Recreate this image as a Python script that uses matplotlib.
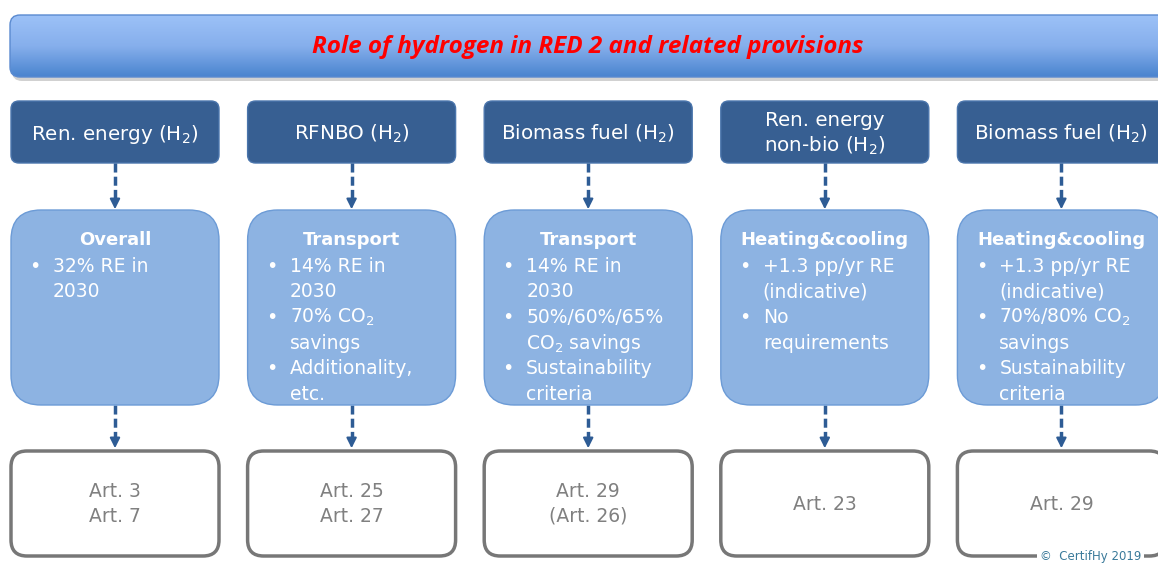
import numpy as np
import matplotlib.pyplot as plt
import matplotlib.patches as patches
from matplotlib.colors import LinearSegmentedColormap

plt.rcParams['mathtext.default'] = 'regular'

# --- content ---
title = "Role of hydrogen in RED 2 and related provisions"
top_labels = ["Ren. energy (H$_2$)", "RFNBO (H$_2$)", "Biomass fuel (H$_2$)",
              "Ren. energy\nnon-bio (H$_2$)", "Biomass fuel (H$_2$)"]
sections = ["Overall", "Transport", "Transport", "Heating&cooling", "Heating&cooling"]
bullets = [
    [["32% RE in", "2030"]],
    [["14% RE in", "2030"], ["70% CO$_2$", "savings"], ["Additionality,", "etc."]],
    [["14% RE in", "2030"], ["50%/60%/65%", "CO$_2$ savings"], ["Sustainability", "criteria"]],
    [["+1.3 pp/yr RE", "(indicative)"], ["No", "requirements"]],
    [["+1.3 pp/yr RE", "(indicative)"], ["70%/80% CO$_2$", "savings"], ["Sustainability", "criteria"]],
]
articles = ["Art. 3\nArt. 7", "Art. 25\nArt. 27", "Art. 29\n(Art. 26)", "Art. 23", "Art. 29"]

W, H = 1158, 563
fig = plt.figure(figsize=(W / 100, H / 100), dpi=100)
ax = fig.add_axes([0, 0, 1, 1])
ax.set_xlim(0, W)
ax.set_ylim(H, 0)
ax.axis('off')

font = 'DejaVu Sans'
dark = '#375F92'
mid = '#8DB3E2'
arrow_col = '#2E5C95'

# title bar with gradient + shadow
shadow = patches.FancyBboxPatch((12, 19), 1160, 62, boxstyle="round,pad=0,rounding_size=10",
                                facecolor='#000000', alpha=0.18, edgecolor='none')
ax.add_patch(shadow)
bar = patches.FancyBboxPatch((10, 15), 1160, 62, boxstyle="round,pad=0,rounding_size=10",
                             facecolor='none', edgecolor='#5A8AD0', lw=1)
ax.add_patch(bar)
grad = np.linspace(0, 1, 100).reshape(-1, 1)
cmap = LinearSegmentedColormap.from_list('g', ['#9CC1F7', '#86AFEC', '#4A84CF'])
im = ax.imshow(grad, extent=(10, 1170, 77, 15), cmap=cmap, aspect='auto', zorder=1)
im.set_clip_path(bar)
bar.set_zorder(2)
ax.text(588, 47, title, ha='center', va='center', color='#FF0000', fontsize=17.5,
        fontweight='bold', style='italic', family='Open Sans', zorder=3)

step = 236.6
bw = 208
for i in range(5):
    x0 = 11 + i * step
    cx = x0 + bw / 2

    # top box
    ax.add_patch(patches.FancyBboxPatch((x0, 101), bw, 62, boxstyle="round,pad=0,rounding_size=8",
                                        facecolor=dark, edgecolor='#4A75AC', lw=1, zorder=2))
    ax.text(cx, 134, top_labels[i], ha='center', va='center', color='white', fontsize=14.3,
            family=font, linespacing=1.3, zorder=3)

    # arrows
    for y1, y2 in [(163, 212), (405, 451)]:
        ax.plot([cx, cx], [y1, y2 - 10], color=arrow_col, lw=2.5, ls=(0, (2.6, 1.2)), zorder=2)
        ax.annotate('', xy=(cx, y2), xytext=(cx, y2 - 11),
                    arrowprops=dict(arrowstyle='-|>,head_width=0.3,head_length=0.6',
                                    color=arrow_col, lw=1.5), zorder=2)

    # middle box
    ax.add_patch(patches.FancyBboxPatch((x0, 210), bw, 195, boxstyle="round,pad=0,rounding_size=30",
                                        facecolor=mid, edgecolor='#6C9BD6', lw=1, zorder=2))
    ax.text(cx, 240, sections[i], ha='center', va='center', color='white', fontsize=13,
            fontweight='bold', family=font, zorder=3)
    y = 266
    for item in bullets[i]:
        for j, line in enumerate(item):
            if j == 0:
                ax.text(x0 + 24, y, '•', ha='center', va='center', color='white',
                        fontsize=14, family=font, zorder=3)
            ax.text(x0 + 42, y, line, ha='left', va='center', color='white',
                    fontsize=13.5, family=font, zorder=3)
            y += 25.7

    # bottom box
    ax.add_patch(patches.FancyBboxPatch((x0, 451), bw, 105, boxstyle="round,pad=0,rounding_size=16",
                                        facecolor='white', edgecolor='#777777', lw=2.5, zorder=2))
    ax.text(cx, 504, articles[i], ha='center', va='center', color='#808080', fontsize=13.5,
            family=font, linespacing=1.35, zorder=3)

# copyright mark
ax.text(1040, 563, "©  CertifHy 2019", ha='left', va='bottom', fontsize=8.5, color='#3A7A9A',
        family=font, zorder=5, bbox=dict(facecolor='white', edgecolor='none', pad=2))

fig.savefig('out.png', dpi=100)
